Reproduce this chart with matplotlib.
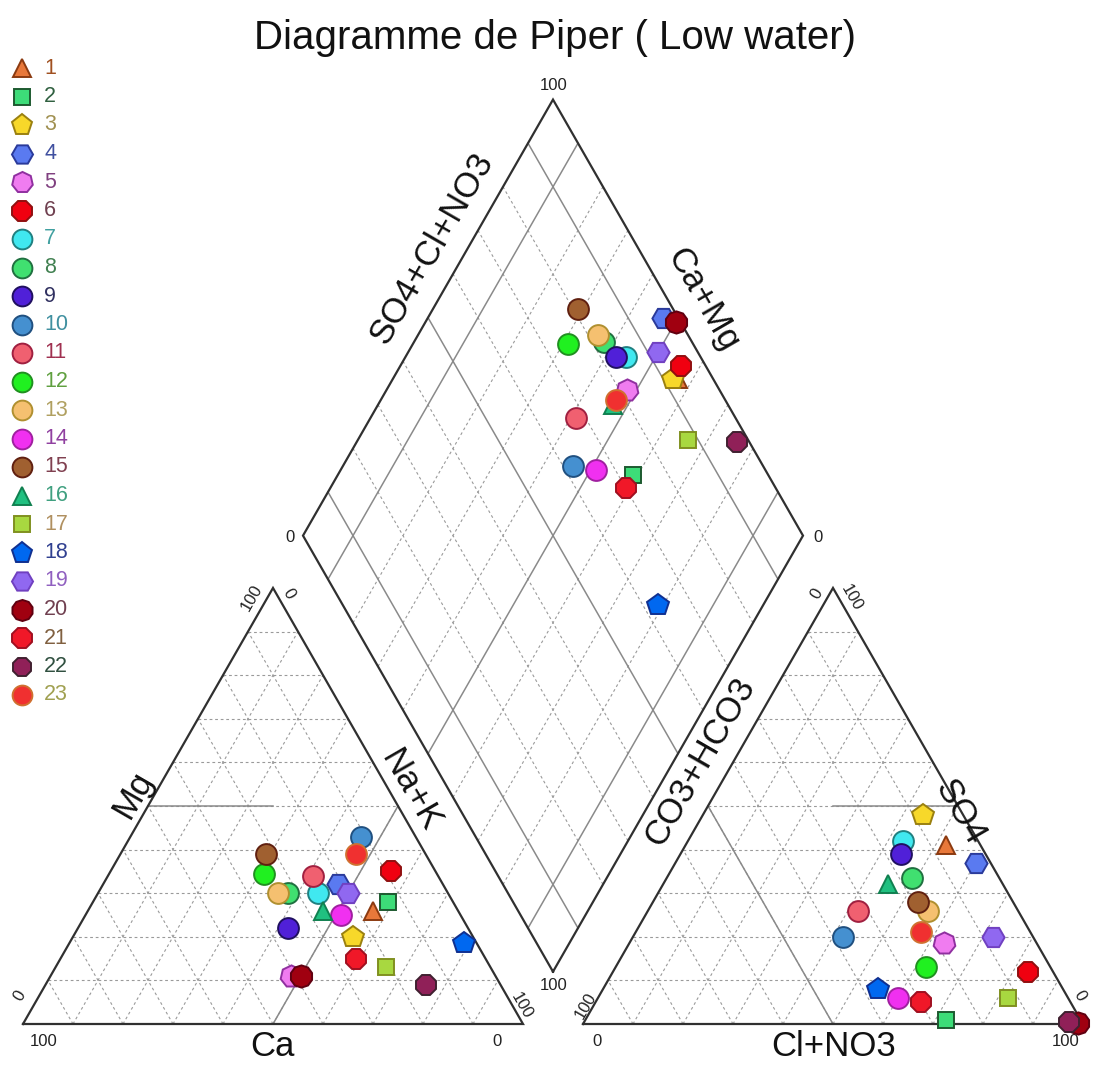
import numpy as np
import matplotlib
matplotlib.use("Agg")
import matplotlib.pyplot as plt

plt.rcParams['font.family'] = ['Liberation Sans', 'DejaVu Sans']

# ---------------- data (percent of meq) ----------------
samples = [str(i) for i in range(1, 24)]
mg  = [26, 28, 20, 32, 11, 35, 30, 30, 22, 43, 34, 34.5, 30, 25, 39, 26, 13, 18.5, 30, 11, 15, 9, 39]
nak = [57, 59, 56, 47, 48, 56, 44, 38, 42, 46, 41, 31, 36, 51, 29, 47, 66, 79, 50, 50, 59, 76, 47]
ca  = [17, 13, 24, 21, 41, 9, 26, 32, 36, 11, 25, 34.5, 34, 24, 32, 27, 21, 2.5, 20, 39, 26, 15, 14]
so4 = [41, 1, 48, 37, 18.5, 12, 42, 33.5, 39, 20, 26, 13, 26, 6, 28, 32, 6, 8, 20, 0.2, 5, 0.5, 21]
cl  = [52, 72, 44, 60, 63, 83, 43, 49, 44, 42, 42, 62, 56, 60, 53, 45, 82, 55, 72, 98.8, 65, 97, 57]
hco3 = [7, 27, 8, 3, 18.5, 5, 15, 17.5, 17, 38, 32, 25, 18, 34, 19, 23, 12, 37, 8, 1, 30, 2.5, 22]

heptagon = (7, 0, 0)
decagon = (10, 0, 0)
markers = ['^', 's', 'p', 'H', heptagon, '8', 'o', 'o', 'o', 'o', 'o', 'o', 'o', 'o', 'o',
           '^', 's', 'p', 'H', decagon, '8', '8', 'o']
faces = ['#e8783a', '#3ddc78', '#f7d82a', '#5a7af0', '#f07cf0', '#f00010', '#40e8f0', '#40e070',
         '#5020d8', '#4590d0', '#f06070', '#20f020', '#f5c070', '#f030f0', '#a06030', '#20c080',
         '#a8d840', '#0068f0', '#9068f0', '#a00010', '#f01828', '#902058', '#f03030']
edges = ['#8b3a10', '#1d5a30', '#9a8010', '#2a3a9a', '#9030a0', '#901010', '#208080', '#207040',
         '#201060', '#205080', '#a02040', '#209020', '#b09030', '#a020a0', '#602010', '#108050',
         '#809020', '#103090', '#7040c0', '#600010', '#a01020', '#402030', '#d07030']
textcols = ['#a05020', '#306040', '#a09050', '#4050a0', '#804080', '#704050', '#40a0a0', '#408050',
            '#303060', '#4090a0', '#a03050', '#60a040', '#b0a060', '#9040a0', '#804050', '#40a080',
            '#b09060', '#304090', '#9060c0', '#704050', '#806040', '#305040', '#a0a050']
sizes = [13, 11.5, 16, 16, 16, 16, 15, 15, 15, 15, 15, 15, 15, 15, 15, 13, 11.5, 16, 16, 16, 16, 15, 15]

# ---------------- geometry ----------------
g = 0.12
h = np.sqrt(3) / 2
W, H = 1094, 1070
PXU, PYU = 500.0, 503.5
X0, Y0 = 23.0, 1024.0

fig = plt.figure(figsize=(W / 100, H / 100), dpi=100)
ax = fig.add_axes([0, 0, 1, 1])
ax.set_xlim(-X0 / PXU, (W - X0) / PXU)
ax.set_ylim((Y0 - H) / PYU, Y0 / PYU)
ax.axis('off')

def cat_xy(m, n):
    return n / 100 + 0.5 * m / 100, h * m / 100

def an_xy(s, c):
    return 1 + g + c / 100 + 0.5 * s / 100, h * s / 100

B = np.array([1 + g / 2, h * g])
uL = np.array([-0.5, h])
uR = np.array([0.5, h])

def dia_xy(a, b):
    p = B + (1 - a) * uL + b * uR
    return p[0], p[1]

grid_kw = dict(color='#9a9a9a', lw=0.8, ls=(0, (2.5, 2.5)), zorder=1)
solid_kw = dict(color='#8a8a8a', lw=1.1, zorder=1.5)
frame_kw = dict(color='#303030', lw=1.6, zorder=2, solid_joinstyle='miter')

def seg(p, q, **kw):
    ax.plot([p[0], q[0]], [p[1], q[1]], **kw)

def triangle(x0):
    BLp = np.array([x0, 0]); BRp = np.array([x0 + 1, 0]); T = np.array([x0 + 0.5, h])
    for i in range(1, 10):
        f = i / 10
        seg(BLp + f * (T - BLp), BRp + f * (T - BRp), **grid_kw)
        seg(BLp + f * (BRp - BLp), T + f * (BRp - T), **grid_kw)
        seg(BRp + f * (BLp - BRp), T + f * (BLp - T), **grid_kw)
    ax.plot([BLp[0], BRp[0], T[0], BLp[0]], [BLp[1], BRp[1], T[1], BLp[1]], **frame_kw)
    return BLp, BRp, T

# left triangle
BL1, BR1, T1 = triangle(0.0)
mid_b = (BL1 + BR1) / 2
seg(BL1 + 0.5 * (T1 - BL1), np.array([T1[0], h / 2]), **solid_kw)
seg(mid_b, BR1 + 0.5 * (T1 - BR1), **solid_kw)

# right triangle
BL2, BR2, T2 = triangle(1 + g)
mid_b2 = (BL2 + BR2) / 2
seg(np.array([T2[0], h / 2]), BR2 + 0.5 * (T2 - BR2), **solid_kw)
seg(mid_b2, BL2 + 0.5 * (T2 - BL2), **solid_kw)

# diamond
solid_fr = (0.1, 0.5, 0.9)
for i in range(1, 10):
    f = i / 10
    kw = solid_kw if round(f, 1) in solid_fr else grid_kw
    p = B + f * uL; seg(p, p + uR, **kw)
    p = B + f * uR; seg(p, p + uL, **kw)
Ld = B + uL; Rd = B + uR; Td = B + uL + uR
ax.plot([B[0], Ld[0], Td[0], Rd[0], B[0]], [B[1], Ld[1], Td[1], Rd[1], B[1]], **frame_kw)

# ---------------- points ----------------
for i in range(len(samples)):
    pts = [cat_xy(mg[i], nak[i]),
           an_xy(so4[i], cl[i]),
           dia_xy(nak[i] / 100, (so4[i] + cl[i]) / 100)]
    for (x, y) in pts:
        ax.plot(x, y, marker=markers[i], ms=sizes[i], mfc=faces[i], mec=edges[i],
                mew=1.4, ls='none', zorder=5 + i * 0.01)

# ---------------- legend ----------------
def px2data(px, py):
    return (px - X0) / PXU, (Y0 - py) / PYU

for i, lab in enumerate(samples):
    py = 68 + 28.5 * i
    x, y = px2data(22, py)
    ax.plot(x, y, marker=markers[i], ms=sizes[i] * 0.95, mfc=faces[i], mec=edges[i],
            mew=1.4, ls='none', zorder=6)
    x, y = px2data(44, py)
    ax.text(x, y, lab, color=textcols[i], fontsize=15.5, ha='left', va='center')

# ---------------- labels ----------------
ax.text(*px2data(555, 38), 'Diagramme de Piper ( Low water)', fontsize=29,
        ha='center', va='center', color='#111111')

lab_kw = dict(fontsize=25, color='#111111', ha='center', va='center', rotation_mode='anchor')
ax.text(*px2data(272, 1046), 'Ca', **lab_kw)
ax.text(*px2data(834, 1046), 'Cl+NO3', **lab_kw)
ax.text(*px2data(133, 795), 'Mg', rotation=60, **lab_kw)
ax.text(*px2data(410, 790), 'Na+K', rotation=-60, **lab_kw)
ax.text(*px2data(432, 248), 'SO4+Cl+NO3', rotation=60, **lab_kw)
ax.text(*px2data(703, 300), 'Ca+Mg', rotation=-60, **lab_kw)
ax.text(*px2data(700, 762), 'CO3+HCO3', rotation=60, **lab_kw)
ax.text(*px2data(960, 812), 'SO4', rotation=-60, **lab_kw)

tk = dict(fontsize=12, color='#222222', ha='center', va='center', rotation_mode='anchor')
# left triangle
ax.text(*px2data(44, 1042), '100', **tk)
ax.text(*px2data(497, 1042), '0', **tk)
ax.text(*px2data(252, 598), '100', rotation=60, **tk)
ax.text(*px2data(289, 594), '0', rotation=-60, **tk)
ax.text(*px2data(20, 996), '0', rotation=60, **tk)
ax.text(*px2data(522, 1006), '100', rotation=-60, **tk)
# right triangle
ax.text(*px2data(597, 1042), '0', **tk)
ax.text(*px2data(1066, 1042), '100', **tk)
ax.text(*px2data(817, 594), '0', rotation=60, **tk)
ax.text(*px2data(852, 598), '100', rotation=-60, **tk)
ax.text(*px2data(586, 1006), '100', rotation=60, **tk)
ax.text(*px2data(1080, 996), '0', rotation=-60, **tk)
# diamond
ax.text(*px2data(554, 86), '100', **tk)
ax.text(*px2data(290, 537), '0', **tk)
ax.text(*px2data(818, 537), '0', **tk)
ax.text(*px2data(554, 986), '100', **tk)

fig.savefig('out.png', dpi=100, facecolor='white')
